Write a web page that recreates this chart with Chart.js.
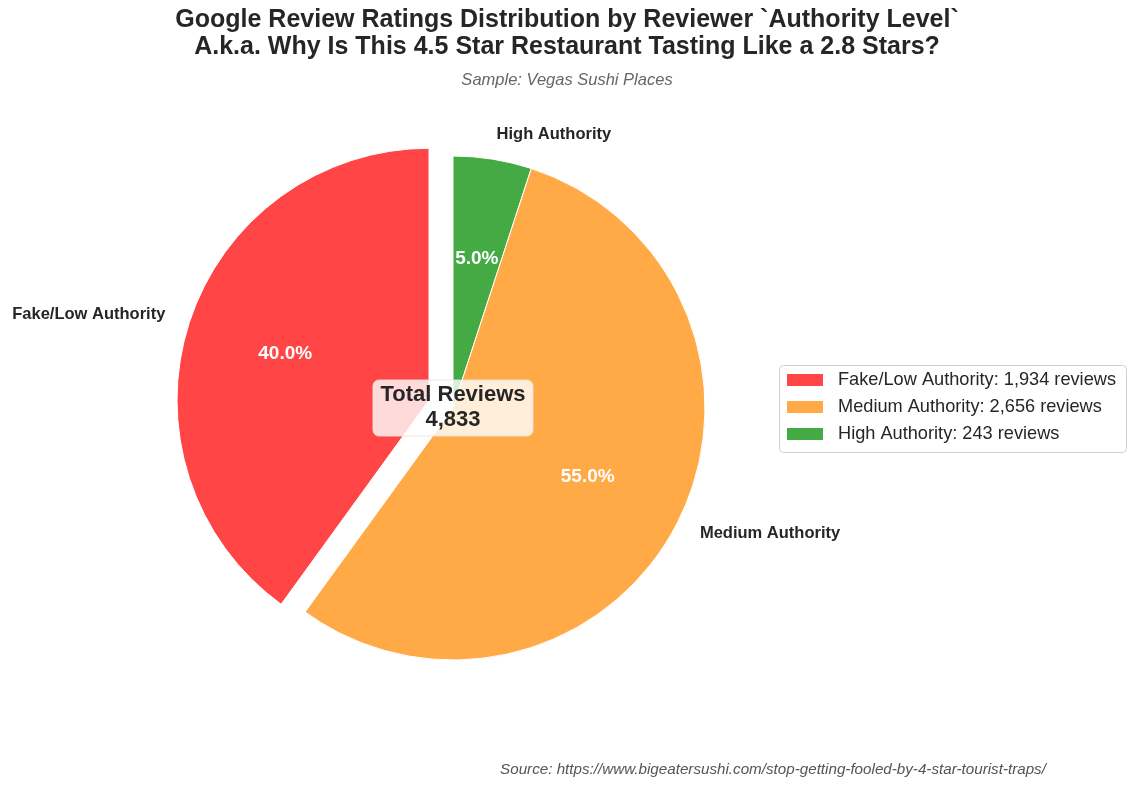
<!DOCTYPE html>
<html>
<head>
<meta charset="utf-8">
<script src="https://cdn.jsdelivr.net/npm/chart.js@4.4.1/dist/chart.umd.min.js"></script>
<style>
  html, body { margin: 0; padding: 0; background: #fff; }
  canvas { display: block; }
</style>
</head>
<body>
<canvas id="chart" width="1135" height="788"></canvas>
<script>
// Legend / reading order (as in the original): Fake/Low, Medium, High
const categories = ["Fake/Low Authority", "Medium Authority", "High Authority"]
const reviewCounts = [1934, 2656, 243]
const sliceColors = ["#ff4545", "#ffaa46", "#44aa44"]
const explode = [0.1, 0, 0] // fraction of the radius, like matplotlib

const titleLines = [
  "Google Review Ratings Distribution by Reviewer `Authority Level`",
  "A.k.a. Why Is This 4.5 Star Restaurant Tasting Like a 2.8 Stars?"
]
const subtitle = "Sample: Vegas Sushi Places"
const sourceText = "Source: https://www.bigeatersushi.com/stop-getting-fooled-by-4-star-tourist-traps/"

const FONT = '"Liberation Sans", Arial, Helvetica, sans-serif'
const TEXT = "#262626"

// Chart.js goes clockwise from 12 o'clock, so feed slices reversed
// to get the same counter-clockwise layout as the reference.
const order = [2, 1, 0]
const total = reviewCounts.reduce((a, b) => a + b, 0)
const fmt = n => n.toLocaleString("en-US")

// Chart.js' own `offset` also shrinks the arc, so push exploded slices
// out along their bisector by translating before the normal arc draw.
const explodePlugin = {
  id: "explode",
  afterDatasetsUpdate(chart) {
    chart.getDatasetMeta(0).data.forEach((arc, i) => {
      arc.$shift = explode[order[i]] * arc.outerRadius
      if (!arc.$shift || arc.$patched) return
      arc.$patched = true
      arc.draw = function (ctx) {
        const mid = (this.startAngle + this.endAngle) / 2
        ctx.save()
        ctx.translate(Math.cos(mid) * this.$shift, Math.sin(mid) * this.$shift)
        Chart.ArcElement.prototype.draw.call(this, ctx)
        ctx.restore()
      }
    })
  }
}

const decorations = {
  id: "decorations",
  afterDraw(chart) {
    const ctx = chart.ctx
    const meta = chart.getDatasetMeta(0)
    ctx.save()

    // titles
    ctx.textAlign = "center"
    ctx.textBaseline = "middle"
    ctx.fillStyle = TEXT
    ctx.font = "bold 25px " + FONT
    ctx.fillText(titleLines[0], 567, 20)
    ctx.fillText(titleLines[1], 567, 47)
    ctx.fillStyle = "#666"
    ctx.font = "italic 16.5px " + FONT
    ctx.fillText(subtitle, 567, 80)

    // slice labels + percentages
    meta.data.forEach((arc, i) => {
      const idx = order[i]
      const mid = (arc.startAngle + arc.endAngle) / 2
      const off = arc.$shift || 0
      const cx = arc.x + Math.cos(mid) * off
      const cy = arc.y + Math.sin(mid) * off
      const r = arc.outerRadius

      const lx = cx + Math.cos(mid) * r * 1.1
      const ly = cy + Math.sin(mid) * r * 1.1
      ctx.font = "bold 16.5px " + FONT
      ctx.fillStyle = TEXT
      ctx.textAlign = Math.cos(mid) >= 0 ? "left" : "right"
      ctx.fillText(categories[idx], lx, ly)

      const px = cx + Math.cos(mid) * r * 0.6
      const py = cy + Math.sin(mid) * r * 0.6
      ctx.font = "bold 19px " + FONT
      ctx.fillStyle = "#fff"
      ctx.textAlign = "center"
      ctx.fillText((reviewCounts[idx] / total * 100).toFixed(1) + "%", px, py)
    })

    // center box
    const c = meta.data[0]
    const bx = c.x - 80, by = c.y - 28, bw = 160, bh = 56
    ctx.beginPath()
    ctx.roundRect(bx, by, bw, bh, 6)
    ctx.fillStyle = "rgba(255,255,255,0.8)"
    ctx.fill()
    ctx.strokeStyle = "rgba(235,225,225,0.9)"
    ctx.lineWidth = 1
    ctx.stroke()
    ctx.fillStyle = TEXT
    ctx.font = "bold 22px " + FONT
    ctx.textAlign = "center"
    ctx.fillText("Total Reviews", c.x, c.y - 13)
    ctx.fillText(fmt(total), c.x, c.y + 12)

    // legend
    ctx.beginPath()
    ctx.roundRect(779.5, 365.5, 347, 87, 4)
    ctx.fillStyle = "rgba(255,255,255,0.8)"
    ctx.fill()
    ctx.strokeStyle = "#d0d0d0"
    ctx.stroke()
    categories.forEach((name, i) => {
      const y = 380 + i * 27
      ctx.fillStyle = sliceColors[i]
      ctx.fillRect(787, y - 6, 36, 12)
      ctx.fillStyle = TEXT
      ctx.textAlign = "left"
      ctx.font = "18.2px " + FONT
      ctx.fillText(name + ": " + fmt(reviewCounts[i]) + " reviews", 838, y)
    })

    // source
    ctx.fillStyle = "#555"
    ctx.font = "italic 15.2px " + FONT
    ctx.textAlign = "center"
    ctx.fillText(sourceText, 773, 770)

    ctx.restore()
  }
}

new Chart(document.getElementById("chart"), {
  type: "pie",
  data: {
    labels: order.map(i => categories[i]),
    datasets: [{
      data: order.map(i => reviewCounts[i]),
      backgroundColor: order.map(i => sliceColors[i]),
      borderColor: "#fff",
      borderWidth: 1,
      hoverOffset: 0
    }]
  },
  options: {
    responsive: false,
    devicePixelRatio: 1,
    animation: false,
    radius: 252,
    layout: { padding: { left: 100, right: 329, top: 130, bottom: 102 } },
    plugins: {
      legend: { display: false },
      tooltip: { enabled: false }
    }
  },
  plugins: [explodePlugin, decorations]
})
</script>
</body>
</html>
